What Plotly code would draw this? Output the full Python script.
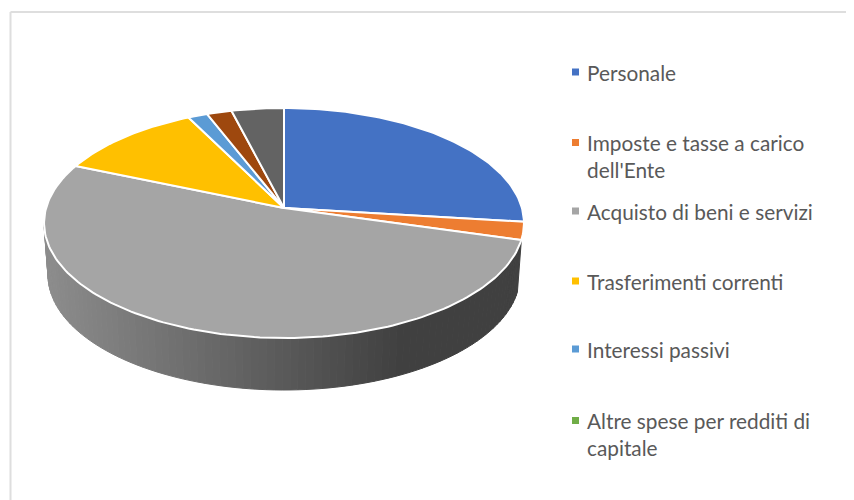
import math
import plotly.graph_objects as go

# ---- data (percent shares) ----
categories = ["Personale", "Imposte e tasse a carico dell'Ente", "Acquisto di beni e servizi",
              "Trasferimenti correnti", "Interessi passivi", "Altre spese per redditi di capitale",
              "Altre spese correnti", "Rimborso prestiti"]
values = [26.9, 2.5, 52.0, 11.2, 1.5, 0.0, 1.9, 4.0]
colors = ["#4472C4", "#ED7D31", "#A5A5A5", "#FFC000", "#5B9BD5", "#70AD47", "#9E480E", "#636363"]
legend_lines = ["Personale", "Imposte e tasse a carico<br>dell'Ente", "Acquisto di beni e servizi",
                "Trasferimenti correnti", "Interessi passivi", "Altre spese per redditi di<br>capitale"]
legend_centers = [72, 156, 211, 281, 349, 434]

# ---- geometry: perspective projection of the pie's disc, in page pixels ----
CX, CY = 284.0, 208.0
A, B, P = 237.9, 113.04, 0.1304
RX_TOP, RY, CY_TOP = 240.0, 115.0, 223.0
RX_BOT, CY_BOT = 236.0, 275.0


def project(theta):
    u, v = math.sin(theta), math.cos(theta)
    w = 1 + P * v
    return CX + A * u / w, CY - B * v / w


def wall_color(x):
    # side-wall shading: light on the left, dark on the right
    f = min(max((x - 44) / (400 - 44), 0), 1)
    g = round(141 + (64 - 141) * f)
    return f"rgb({g},{g},{g})"


fig = go.Figure()

# side wall, drawn as thin shaded strips
t0, t1 = math.radians(8.5), math.pi
n = 90
for i in range(n):
    a = t0 + (t1 - t0) * i / n
    b = t0 + (t1 - t0) * (i + 1) / n
    xs = [CX + RX_TOP * math.cos(a), CX + RX_TOP * math.cos(b), CX + RX_BOT * math.cos(b), CX + RX_BOT * math.cos(a)]
    ys = [CY_TOP + RY * math.sin(a), CY_TOP + RY * math.sin(b), CY_BOT + RY * math.sin(b), CY_BOT + RY * math.sin(a)]
    col = wall_color(sum(xs) / 4)
    fig.add_trace(go.Scatter(x=xs + xs[:1], y=ys + ys[:1], mode="lines", fill="toself",
                             fillcolor=col, line=dict(color=col, width=1),
                             hoverinfo="skip", showlegend=False))

# slices
total = sum(values)
start = 0.0
for name, val, col in zip(categories, values, colors):
    end = start + val / total
    if val > 0:
        steps = max(2, int(val * 3))
        pts = [project(2 * math.pi * (start + (end - start) * k / steps)) for k in range(steps + 1)]
        xs = [CX] + [p[0] for p in pts] + [CX]
        ys = [CY] + [p[1] for p in pts] + [CY]
        fig.add_trace(go.Scatter(x=xs, y=ys, mode="lines", fill="toself", fillcolor=col,
                                 line=dict(color="white", width=2), name=name,
                                 hoverinfo="name", showlegend=False))
    start = end

shapes = [dict(type="line", xref="x", yref="y", x0=10.5, y0=12, x1=854, y1=12,
               line=dict(color="#DEDEDE", width=2)),
          dict(type="line", xref="x", yref="y", x0=10.5, y0=12, x1=10.5, y1=500,
               line=dict(color="#DEDEDE", width=2))]
annotations = []
for label, yc, col in zip(legend_lines, legend_centers, colors):
    first_y = yc - 13.5 if "<br>" in label else yc
    shapes.append(dict(type="rect", xref="x", yref="y", x0=572, x1=579, y0=first_y - 3.5, y1=first_y + 3.5,
                       fillcolor=col, line=dict(width=0)))
    annotations.append(dict(xref="x", yref="y", x=586, y=yc, text=label, showarrow=False,
                            xanchor="left", yanchor="middle", align="left", borderpad=0,
                            font=dict(family="Lato", size=20.8, color="#595959")))

# the page keeps an 8px margin, so the axes start at page pixel 8
fig.update_layout(
    width=846, height=492, margin=dict(l=0, r=0, t=0, b=0),
    paper_bgcolor="white", plot_bgcolor="white", showlegend=False,
    xaxis=dict(range=[8, 854], visible=False, fixedrange=True),
    yaxis=dict(range=[500, 8], visible=False, fixedrange=True),
    shapes=shapes, annotations=annotations,
)
fig.write_html("out.html", config={"displayModeBar": False})
